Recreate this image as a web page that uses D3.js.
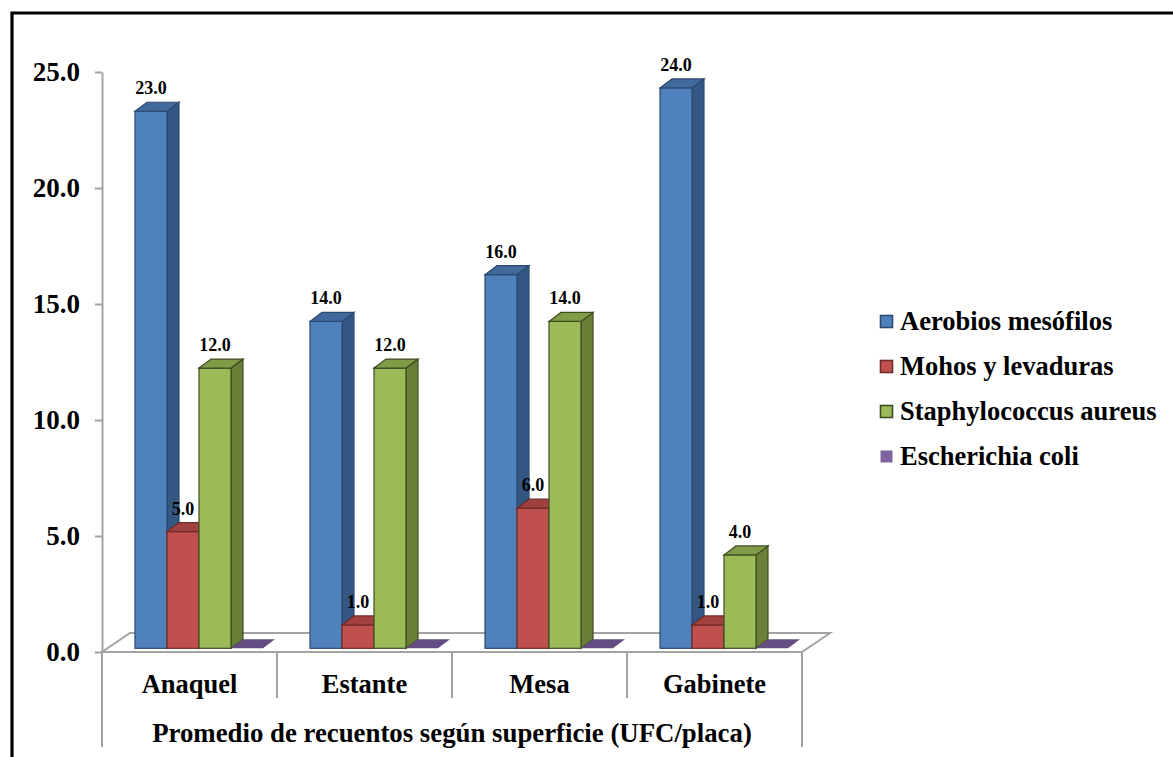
<!DOCTYPE html>
<html>
<head>
<meta charset="utf-8">
<script src="https://cdn.jsdelivr.net/npm/d3@7/dist/d3.min.js"></script>
<style>
  html, body { margin: 0; padding: 0; background: #fff; }
  svg { display: block; }
</style>
</head>
<body>
<svg id="chart" width="1173" height="757"></svg>
<script>
// Surface categories and the four microbial groups counted on each
const categories = ["Anaquel", "Estante", "Mesa", "Gabinete"];
const seriesNames = ["Aerobios mesófilos", "Mohos y levaduras", "Staphylococcus aureus", "Escherichia coli"];
const aerobios = [23.0, 14.0, 16.0, 24.0];
const mohos = [5.0, 1.0, 6.0, 1.0];
const staphylococcus = [12.0, 12.0, 14.0, 4.0];
const escherichia = [0.0, 0.0, 0.0, 0.0];
const yTicks = [0, 5, 10, 15, 20, 25];
const axisTitle = "Promedio de recuentos según superficie (UFC/placa)";

const seriesValues = [aerobios, mohos, staphylococcus, escherichia];

const FONT = "Liberation Serif";

// face colours for each series: front, top, side, outline
const palette = [
  { front: "#4F81BD", top: "#41699B", side: "#345682", line: "#2C4A70" },
  { front: "#C0504D", top: "#A0413F", side: "#8C3835", line: "#6E2B29" },
  { front: "#9BBB59", top: "#809C47", side: "#6A8038", line: "#3E4C22" },
  { front: "#8064A2", top: "#644D82", side: "#52406B", line: "#4A3A60" }
];

const svg = d3.select("#chart")
  .attr("font-family", FONT)
  .attr("font-weight", "bold");

// page frame
svg.append("path")
  .attr("d", "M12,760 V13 H1180")
  .attr("fill", "none")
  .attr("stroke", "#000")
  .attr("stroke-width", 3.2);

// plot geometry
const floorFront = 652, floorDepthX = 28, floorDepthY = 19;
const depthX = 12, depthY = 9;

const x0 = d3.scaleBand().domain(categories).range([102, 802]);
const x1 = d3.scaleBand().domain(seriesNames).range([33, 161]);
const yAxisScale = d3.scaleLinear().domain([0, 25]).range([floorFront, 72]);
const yBar = d3.scaleLinear().domain([0, 25]).range([648.3, 648.3 - 25 * 23.35]);

const grey = "#A3A3A3";

// floor of the 3-D plot
const xL = x0.range()[0], xR = x0.range()[1];
svg.append("path")
  .attr("d", `M${xL},${floorFront} L${xR},${floorFront} L${xR + floorDepthX},${floorFront - floorDepthY} L${xL + floorDepthX},${floorFront - floorDepthY} Z`)
  .attr("fill", "#fff")
  .attr("stroke", grey)
  .attr("stroke-width", 2);

// category separators below the floor
const bounds = categories.map(c => x0(c)).concat([xR]);
svg.append("g").selectAll("line")
  .data(bounds)
  .join("line")
  .attr("x1", d => d).attr("x2", d => d)
  .attr("y1", floorFront)
  .attr("y2", (d, i) => (i === 0 || i === bounds.length - 1) ? 747 : 698)
  .attr("stroke", grey)
  .attr("stroke-width", 2);

// value axis
const yAxis = d3.axisLeft(yAxisScale)
  .tickValues(yTicks)
  .tickFormat(d3.format(".1f"))
  .tickSize(7)
  .tickSizeOuter(0)
  .tickPadding(15);

const gy = svg.append("g")
  .attr("transform", `translate(${xL},0)`)
  .call(yAxis)
  .attr("font-family", FONT)
  .attr("font-size", 27)
  .attr("font-weight", "bold");
gy.select(".domain").attr("stroke", grey).attr("stroke-width", 2);
gy.selectAll(".tick line").attr("stroke", grey).attr("stroke-width", 2);
gy.selectAll(".tick text")
  .attr("font-family", FONT)
  .attr("font-size", 27)
  .attr("font-weight", "bold")
  .attr("fill", "#000")
  .attr("dy", "0.32em");

// bars, drawn left to right so each front face covers its neighbour's side
const bars = [];
categories.forEach((c, ci) => {
  seriesNames.forEach((s, si) => {
    bars.push({ cat: c, ser: s, si: si, value: seriesValues[si][ci] });
  });
});

const w = x1.bandwidth();
const gBars = svg.append("g");
bars.forEach(b => {
  const col = palette[b.si];
  const xf = x0(b.cat) + x1(b.ser);
  const yb = yBar(0);
  const yt = yBar(b.value);
  const g = gBars.append("g");
  if (b.value > 0) {
    // side face
    g.append("path")
      .attr("d", `M${xf + w},${yb} L${xf + w + depthX},${yb - depthY} L${xf + w + depthX},${yt - depthY} L${xf + w},${yt} Z`)
      .attr("fill", col.side).attr("stroke", col.line).attr("stroke-width", 1.2);
    // front face
    g.append("rect")
      .attr("x", xf).attr("y", yt)
      .attr("width", w).attr("height", yb - yt)
      .attr("fill", col.front).attr("stroke", col.line).attr("stroke-width", 1.2);
  }
  // top face (a zero value leaves only this flat cap on the floor)
  g.append("path")
    .attr("d", `M${xf},${yt} L${xf + depthX},${yt - depthY} L${xf + w + depthX},${yt - depthY} L${xf + w},${yt} Z`)
    .attr("fill", col.top)
    .attr("stroke", b.value > 0 ? col.line : "none")
    .attr("stroke-width", 1.2);
  if (b.value > 0) {
    g.append("text")
      .attr("x", xf + w / 2)
      .attr("y", yt - 17)
      .attr("text-anchor", "middle")
      .attr("font-family", FONT)
      .attr("font-weight", "bold")
      .attr("font-size", 18)
      .attr("fill", "#000")
      .text(d3.format(".1f")(b.value));
  }
});

// category labels
svg.append("g").selectAll("text")
  .data(categories)
  .join("text")
  .attr("x", d => x0(d) + x0.bandwidth() / 2)
  .attr("y", 693)
  .attr("text-anchor", "middle")
  .attr("font-family", FONT)
  .attr("font-weight", "bold")
  .attr("font-size", 26.5)
  .attr("fill", "#000")
  .text(d => d);

// axis title
svg.append("text")
  .attr("x", (xL + xR) / 2)
  .attr("y", 742)
  .attr("text-anchor", "middle")
  .attr("font-family", FONT)
  .attr("font-weight", "bold")
  .attr("font-size", 26.8)
  .attr("fill", "#000")
  .text(axisTitle);

// legend
const legend = svg.append("g").attr("transform", "translate(880,330)");
seriesNames.forEach((s, i) => {
  const row = legend.append("g").attr("transform", `translate(0,${i * 45})`);
  row.append("rect")
    .attr("x", 0.5).attr("y", -14.5)
    .attr("width", 12).attr("height", 12)
    .attr("fill", palette[i].front)
    .attr("stroke", i < 3 ? palette[i].line : "none")
    .attr("stroke-width", 1.6);
  row.append("text")
    .attr("x", 20).attr("y", 0)
    .attr("font-family", FONT)
    .attr("font-weight", "bold")
    .attr("font-size", 26.5)
    .attr("fill", "#000")
    .text(s);
});
</script>
</body>
</html>
